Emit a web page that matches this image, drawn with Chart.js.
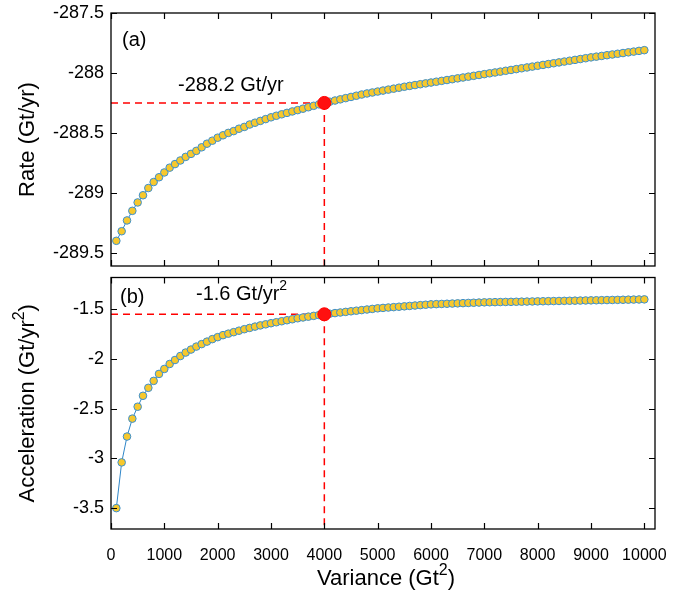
<!DOCTYPE html>
<html>
<head>
<meta charset="utf-8">
<script src="https://cdn.jsdelivr.net/npm/chart.js@4"></script>
<style>
  body { margin: 0; background: #fff; }
  #wrap { position: relative; width: 699px; height: 597px; }
  canvas { position: absolute; left: 0; }
  #rateChart { top: 0; }
  #accelChart { top: 270px; }
</style>
</head>
<body>
<div id="wrap">
  <canvas id="rateChart" width="699" height="290"></canvas>
  <canvas id="accelChart" width="699" height="327"></canvas>
</div>
<script>
// Varianz-Werte (x) - eine Messung alle 100 Gt^2
const xValues = [
  100, 200, 300, 400, 500, 600, 700, 800, 900, 1000,
  1100, 1200, 1300, 1400, 1500, 1600, 1700, 1800, 1900, 2000,
  2100, 2200, 2300, 2400, 2500, 2600, 2700, 2800, 2900, 3000,
  3100, 3200, 3300, 3400, 3500, 3600, 3700, 3800, 3900, 4000,
  4100, 4200, 4300, 4400, 4500, 4600, 4700, 4800, 4900, 5000,
  5100, 5200, 5300, 5400, 5500, 5600, 5700, 5800, 5900, 6000,
  6100, 6200, 6300, 6400, 6500, 6600, 6700, 6800, 6900, 7000,
  7100, 7200, 7300, 7400, 7500, 7600, 7700, 7800, 7900, 8000,
  8100, 8200, 8300, 8400, 8500, 8600, 8700, 8800, 8900, 9000,
  9100, 9200, 9300, 9400, 9500, 9600, 9700, 9800, 9900, 10000
];

// Panel (a): Rate (Gt/yr)
const rateValues = [
  -289.40, -289.32, -289.23, -289.15, -289.08, -289.02, -288.96, -288.91, -288.87, -288.83,
  -288.79, -288.76, -288.73, -288.70, -288.675, -288.65, -288.62, -288.59, -288.565, -288.54,
  -288.52, -288.50, -288.485, -288.465, -288.45, -288.43, -288.415, -288.40, -288.385, -288.37,
  -288.357, -288.345, -288.333, -288.321, -288.31, -288.298, -288.286, -288.274, -288.262, -288.25,
  -288.24, -288.23, -288.22, -288.21, -288.20, -288.19, -288.18, -288.171, -288.163, -288.155,
  -288.147, -288.139, -288.131, -288.123, -288.115, -288.108, -288.101, -288.094, -288.087, -288.08,
  -288.073, -288.066, -288.059, -288.052, -288.045, -288.038, -288.031, -288.024, -288.017, -288.01,
  -288.003, -287.996, -287.989, -287.982, -287.975, -287.968, -287.961, -287.954, -287.947, -287.94,
  -287.933, -287.926, -287.919, -287.912, -287.905, -287.898, -287.891, -287.884, -287.877, -287.87,
  -287.864, -287.858, -287.852, -287.846, -287.84, -287.834, -287.828, -287.822, -287.816, -287.81
];

// Panel (b): Acceleration (Gt/yr^2)
const accelValues = [
  -3.50, -3.04, -2.78, -2.60, -2.48, -2.37, -2.29, -2.22, -2.15, -2.10,
  -2.05, -2.01, -1.97, -1.935, -1.905, -1.875, -1.85, -1.825, -1.80, -1.78,
  -1.76, -1.745, -1.73, -1.715, -1.70, -1.687, -1.674, -1.662, -1.651, -1.64,
  -1.63, -1.62, -1.61, -1.60, -1.59, -1.582, -1.574, -1.566, -1.558, -1.55,
  -1.544, -1.538, -1.532, -1.526, -1.52, -1.514, -1.508, -1.502, -1.496, -1.49,
  -1.486, -1.482, -1.478, -1.474, -1.47, -1.466, -1.462, -1.458, -1.454, -1.45,
  -1.448, -1.446, -1.444, -1.442, -1.44, -1.438, -1.436, -1.434, -1.432, -1.43,
  -1.429, -1.428, -1.427, -1.426, -1.425, -1.424, -1.423, -1.422, -1.421, -1.42,
  -1.419, -1.418, -1.417, -1.416, -1.415, -1.414, -1.413, -1.412, -1.411, -1.41,
  -1.409, -1.408, -1.407, -1.406, -1.405, -1.404, -1.403, -1.402, -1.401, -1.40
];

// Achsenbeschriftungen
const xTicks = [0, 1000, 2000, 3000, 4000, 5000, 6000, 7000, 8000, 9000, 10000];
const rateTicks = [-289.5, -289, -288.5, -288, -287.5];
const accelTicks = [-3.5, -3, -2.5, -2, -1.5];

// markierter Punkt bei 4000 Gt^2
const markX = 4000;
const rateMark = -288.25;
const accelMark = -1.55;

const FONT = "'Liberation Sans', Arial, sans-serif";

// Text mit Hochstellung zeichnen (parts: [{t, sup}])
function drawRich(ctx, parts, x, y, size, align) {
    const supSize = Math.round(size * 0.72);
    let total = 0;
    parts.forEach(p => {
        ctx.font = (p.sup ? supSize : size) + "px " + FONT;
        p.w = ctx.measureText(p.t).width;
        total += p.w;
    });
    let cx = align === "center" ? x - total / 2 : x;
    ctx.textBaseline = "middle";
    ctx.textAlign = "left";
    parts.forEach(p => {
        ctx.font = (p.sup ? supSize : size) + "px " + FONT;
        ctx.fillText(p.t, cx, p.sup ? y - size * 0.38 : y);
        cx += p.w;
    });
}

const panelPlugin = {
    id: "panel",
    beforeDatasetsDraw(chart, args, opts) {
        const ctx = chart.ctx;
        const area = chart.chartArea;
        const px = chart.scales.x.getPixelForValue(markX);
        const py = chart.scales.y.getPixelForValue(opts.markY);
        ctx.save();
        ctx.strokeStyle = "#ff0000";
        ctx.lineWidth = 1.5;
        ctx.setLineDash([7, 5]);
        ctx.beginPath();
        ctx.moveTo(area.left, py);
        ctx.lineTo(px, py);
        ctx.moveTo(px, py);
        ctx.lineTo(px, area.bottom);
        ctx.stroke();
        ctx.restore();
    },
    afterDraw(chart, args, opts) {
        const ctx = chart.ctx;
        const area = chart.chartArea;
        const xs = chart.scales.x;
        const ys = chart.scales.y;
        ctx.save();
        ctx.strokeStyle = "#000";
        ctx.lineWidth = 1.3;
        ctx.strokeRect(area.left, area.top, area.right - area.left, area.bottom - area.top);

        // Tickmarken nach innen, auf allen vier Seiten
        const len = 6;
        ctx.lineWidth = 1.2;
        ctx.beginPath();
        xTicks.forEach(v => {
            const p = Math.round(xs.getPixelForValue(v)) + 0.5;
            ctx.moveTo(p, area.bottom);
            ctx.lineTo(p, area.bottom - len);
            ctx.moveTo(p, area.top);
            ctx.lineTo(p, area.top + len);
        });
        opts.yTicks.forEach(v => {
            const p = Math.round(ys.getPixelForValue(v)) + 0.5;
            ctx.moveTo(area.left, p);
            ctx.lineTo(area.left + len, p);
            ctx.moveTo(area.right, p);
            ctx.lineTo(area.right - len, p);
        });
        ctx.stroke();

        ctx.fillStyle = "#000";
        // Achsentitel (y)
        ctx.save();
        ctx.translate(28, (area.top + area.bottom) / 2);
        ctx.rotate(-Math.PI / 2);
        drawRich(ctx, opts.yTitle, 0, 0, 22, "center");
        ctx.restore();

        // Panel-Beschriftungen
        opts.notes.forEach(n => drawRich(ctx, n.parts, n.x, n.y, 20, "left"));

        // Achsentitel (x), nur unten
        if (opts.xTitle) {
            drawRich(ctx, opts.xTitle, (area.left + area.right) / 2 + 3, chart.height - 18, 22, "center");
        }
        ctx.restore();
    }
};

function makeChart(canvasId, values, yMin, yMax, markY, cfg) {
    const ctx = document.getElementById(canvasId).getContext("2d");
    const points = xValues.map((x, i) => ({ x: x, y: values[i] }));

    return new Chart(ctx, {
        type: "scatter",
        data: {
            datasets: [{
                data: [{ x: markX, y: markY }],
                pointRadius: 6.5,
                pointBackgroundColor: "#ff1010",
                pointBorderColor: "#ff0000",
                pointBorderWidth: 1,
                showLine: false
            }, {
                data: points,
                showLine: true,
                borderColor: "#2f86c8",
                borderWidth: 1,
                pointRadius: 3.8,
                pointBackgroundColor: "#f7c82c",
                pointBorderColor: "#3a8fd0",
                pointBorderWidth: 1
            }]
        },
        options: {
            responsive: false,
            animation: false,
            layout: { padding: { top: cfg.padTop, right: 44, left: 0, bottom: 0 } },
            plugins: {
                legend: { display: false },
                tooltip: { enabled: false },
                panel: {
                    markY: markY,
                    yTicks: cfg.yTicks,
                    yTitle: cfg.yTitle,
                    xTitle: cfg.xTitle,
                    notes: cfg.notes
                }
            },
            scales: {
                x: {
                    type: "linear",
                    min: 0,
                    max: 10200,
                    grid: { display: false, drawTicks: false },
                    border: { display: false },
                    afterBuildTicks: s => { s.ticks = xTicks.map(v => ({ value: v })); },
                    afterFit: s => {
                        s.height = cfg.xHeight;
                        s.paddingLeft = 0;
                        s.paddingRight = 0;
                    },
                    ticks: {
                        display: cfg.showX,
                        padding: 17,
                        color: "#000",
                        font: { family: FONT, size: 16 },
                        maxRotation: 0,
                        autoSkip: false,
                        callback: v => String(v)
                    }
                },
                y: {
                    min: yMin,
                    max: yMax,
                    grid: { display: false, drawTicks: false },
                    border: { display: false },
                    afterBuildTicks: s => { s.ticks = cfg.yTicks.map(v => ({ value: v })); },
                    afterFit: s => {
                        s.width = 111;
                        s.paddingTop = 0;
                        s.paddingBottom = 0;
                    },
                    ticks: {
                        padding: 7,
                        color: "#000",
                        font: { family: FONT, size: 18 },
                        autoSkip: false,
                        callback: v => String(v)
                    }
                }
            }
        },
        plugins: [panelPlugin]
    });
}

document.addEventListener("DOMContentLoaded", () => {
    makeChart("rateChart", rateValues, -289.61, -287.5, rateMark, {
        padTop: 13,
        xHeight: 24,
        showX: false,
        yTicks: rateTicks,
        yTitle: [{ t: "Rate (Gt/yr)" }],
        xTitle: null,
        notes: [
            { parts: [{ t: "(a)" }], x: 122, y: 40 },
            { parts: [{ t: "-288.2 Gt/yr" }], x: 178, y: 85 }
        ]
    });

    makeChart("accelChart", accelValues, -3.71, -1.18, accelMark, {
        padTop: 6,
        xHeight: 68,
        showX: true,
        yTicks: accelTicks,
        yTitle: [{ t: "Acceleration (Gt/yr" }, { t: "2", sup: true }, { t: ")" }],
        xTitle: [{ t: "Variance (Gt" }, { t: "2", sup: true }, { t: ")" }],
        notes: [
            { parts: [{ t: "(b)" }], x: 120, y: 27 },
            { parts: [{ t: "-1.6 Gt/yr" }, { t: "2", sup: true }], x: 196, y: 24 }
        ]
    });
});
</script>
</body>
</html>
